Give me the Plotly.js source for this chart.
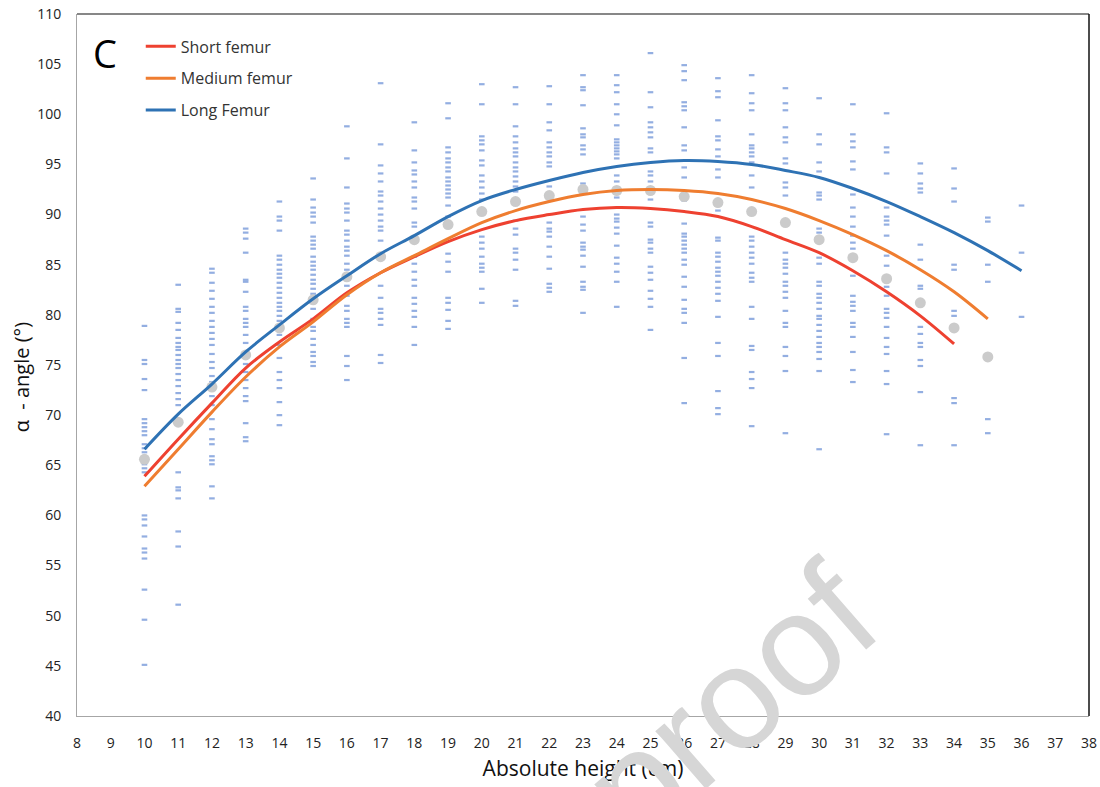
<!DOCTYPE html>
<html>
<head>
<meta charset="utf-8">
<script src="https://cdn.plot.ly/plotly-3.0.1.min.js"></script>
<style>html,body{margin:0;padding:0;background:#fff;}#chart{width:1100px;height:787px;}</style>
</head>
<body>
<div id="chart"></div>
<script>
// Absolute height (cm) of each column of individual measurements
const heights = [10,11,12,13,14,15,16,17,18,19,20,21,22,23,24,25,26,27,28,29,30,31,32,33,34,35,36];
// Individual α-angle measurements (°) per height
const pts10 = [78.9,75.5,75.1,73.6,72.5,69.6,69.2,68.8,68.4,68.0,67.1,66.7,66.3,65.5,65.1,64.7,64.3,60.0,59.6,59.0,57.9,56.7,56.3,55.7,52.6,49.6,45.1];
const pts11 = [83.0,80.6,80.3,79.2,78.5,77.7,77.2,76.8,76.5,76.0,75.5,75.1,74.7,74.1,73.5,72.9,72.2,71.6,71.0,64.3,62.8,62.5,61.7,58.4,56.9,51.1];
const pts12 = [84.6,84.2,83.2,82.4,81.6,80.8,80.2,79.4,78.8,78.2,77.6,77.0,76.1,75.3,74.7,73.9,73.3,71.9,71.0,69.6,68.6,67.6,67.1,65.9,65.5,65.1,62.9,61.7];
const pts13 = [88.6,88.2,87.6,86.2,83.5,83.3,82.3,80.8,80.4,79.6,79.2,78.8,78.0,77.2,75.1,74.3,73.5,72.7,71.9,71.4,69.2,67.8,67.4];
const pts14 = [91.3,89.8,89.4,88.4,85.9,85.5,85.0,84.5,84.1,83.7,83.2,82.7,82.2,81.7,81.2,80.8,80.4,79.9,79.4,78.0,77.0,75.7,74.3,73.5,72.7,71.3,70.0,69.0];
const pts15 = [93.6,91.5,90.7,90.2,89.8,89.2,87.8,87.4,87.0,86.6,85.8,85.3,84.9,84.5,84.0,83.5,83.1,82.6,82.1,80.6,79.6,78.8,78.4,77.6,77.0,76.3,75.9,75.3,74.9];
const pts16 = [98.8,95.6,92.7,91.1,90.6,90.2,89.4,88.4,88.0,87.4,86.8,86.4,85.9,85.1,84.5,82.9,81.9,80.9,80.4,79.6,79.2,78.8,75.9,74.9,73.5];
const pts17 = [103.1,97.0,94.9,94.1,93.3,92.3,91.9,91.3,90.6,90.0,89.4,88.8,88.4,87.4,82.9,81.7,80.6,80.2,79.6,79.0,76.0,75.2];
const pts18 = [99.2,96.4,95.2,94.4,94.0,93.3,92.7,91.7,91.3,90.6,89.2,88.8,85.8,85.1,84.3,83.5,82.9,81.7,81.1,80.4,79.8,78.8,77.0];
const pts19 = [101.1,99.6,96.7,96.2,95.6,95.2,94.7,94.3,93.7,93.3,92.9,92.5,92.1,91.7,90.9,89.8,86.1,85.3,84.3,81.7,81.2,80.5,79.4,78.6];
const pts20 = [103.0,101.0,97.8,97.4,97.0,96.4,95.4,94.9,93.9,93.3,92.7,92.1,91.5,87.8,87.2,86.6,85.8,85.1,84.7,84.3,82.6,81.2];
const pts21 = [102.7,101.0,98.8,97.8,97.2,96.6,96.2,95.8,95.2,94.7,94.3,93.8,93.3,92.8,92.3,89.4,88.6,88.0,86.6,86.2,85.5,84.5,81.4,80.9];
const pts22 = [102.8,101.0,99.2,98.4,97.2,96.7,96.2,95.8,95.2,94.8,92.8,89.2,88.6,88.3,87.8,86.8,85.8,84.6,83.1,82.7,82.3];
const pts23 = [103.9,102.7,102.4,100.9,98.6,98.0,97.7,96.9,96.5,96.0,93.1,89.8,89.0,88.4,87.2,86.8,86.5,85.9,84.8,83.3,82.8,82.5,80.2];
const pts24 = [103.9,102.9,102.2,101.0,100.0,98.9,97.5,97.2,96.9,96.6,96.3,96.0,95.6,93.9,93.3,91.7,90.0,89.6,89.3,88.7,88.1,86.9,85.7,85.1,84.3,83.3,80.8];
const pts25 = [106.1,102.2,100.7,99.2,98.7,98.2,97.7,96.6,96.2,94.3,93.9,93.3,91.5,89.2,88.8,87.5,87.2,86.6,86.2,84.8,84.2,83.5,82.4,81.6,80.8,78.5];
const pts26 = [104.9,104.3,103.4,101.2,100.8,100.4,98.7,96.9,96.4,94.7,93.7,91.4,89.1,88.1,87.8,87.4,87.0,86.6,86.2,85.5,85.0,83.8,82.8,81.5,80.6,80.2,79.2,75.7,71.2];
const pts27 = [103.6,102.3,101.7,99.4,97.8,97.4,96.5,95.8,94.5,93.7,90.4,87.7,87.4,86.2,85.8,85.3,84.7,84.3,83.9,83.3,82.7,82.1,81.4,79.8,77.2,75.9,72.4,70.7,70.1];
const pts28 = [103.9,102.1,101.1,100.4,98.0,96.9,96.6,96.2,95.8,95.2,93.9,92.7,87.8,87.4,86.8,86.2,85.7,85.1,84.2,83.7,83.3,80.8,79.6,76.9,76.5,74.3,73.6,72.7,68.9];
const pts29 = [102.6,101.1,100.4,98.7,97.7,97.2,95.6,95.1,93.2,92.7,91.9,89.4,86.2,85.5,85.1,84.7,84.1,83.3,82.9,82.3,81.7,80.4,79.2,78.8,76.8,75.9,74.4,68.2];
const pts30 = [101.6,98.0,97.0,95.2,94.3,92.2,91.9,91.5,88.6,88.2,85.7,85.1,83.3,82.9,82.1,81.7,81.2,80.6,79.9,79.6,79.0,78.4,77.8,77.2,76.8,76.3,75.6,74.4,66.6];
const pts31 = [101.0,98.0,97.3,96.7,95.3,94.5,92.0,90.7,89.8,88.8,87.9,87.2,86.6,85.9,83.9,81.9,81.3,80.9,80.4,79.2,78.8,77.8,76.3,74.5,73.3];
const pts32 = [100.1,96.7,96.2,94.1,90.7,89.8,89.4,89.0,87.9,85.9,84.9,82.8,81.9,80.6,80.2,79.7,78.8,77.7,76.8,76.1,74.4,73.1,68.1];
const pts33 = [95.1,94.1,93.1,92.6,92.2,87.0,85.5,82.9,82.6,78.8,78.1,77.2,76.8,75.5,74.9,72.3,67.0];
const pts34 = [94.6,92.6,91.3,85.0,84.5,80.4,79.9,71.7,71.2,67.0];
const pts35 = [89.7,89.3,85.0,83.3,69.6,68.2];
const pts36 = [90.9,86.2,79.8];
const columns = [pts10,pts11,pts12,pts13,pts14,pts15,pts16,pts17,pts18,pts19,pts20,pts21,pts22,pts23,pts24,pts25,pts26,pts27,pts28,pts29,pts30,pts31,pts32,pts33,pts34,pts35,pts36];

// Mean α-angle per height (grey dots)
const meanX = [10,11,12,13,14,15,16,17,18,19,20,21,22,23,24,25,26,27,28,29,30,31,32,33,34,35];
const meanY = [65.6,69.3,72.8,76.0,78.7,81.5,83.8,85.8,87.5,89.0,90.3,91.3,91.9,92.5,92.4,92.4,91.8,91.2,90.3,89.2,87.5,85.7,83.6,81.2,78.7,75.8];

// Fitted curves per femur length group
const shortX = [10,11,12,13,14,15,16,17,18,19,20,21,22,23,24,25,26,27,28,29,30,31,32,33,34];
const shortY = [63.9,67.6,71.2,74.7,77.3,79.6,82.2,84.2,85.8,87.3,88.5,89.4,90.0,90.5,90.7,90.6,90.3,89.8,88.8,87.5,86.2,84.4,82.3,79.9,77.1];
const mediumX = [10,11,12,13,14,15,16,17,18,19,20,21,22,23,24,25,26,27,28,29,30,31,32,33,34,35];
const mediumY = [62.9,66.6,70.3,73.8,76.8,79.3,82.0,84.2,85.9,87.6,89.2,90.4,91.3,92.0,92.4,92.5,92.4,92.1,91.5,90.6,89.4,88.0,86.4,84.5,82.3,79.6];
const longX = [10,11,12,13,14,15,16,17,18,19,20,21,22,23,24,25,26,27,28,29,30,31,32,33,34,35,36];
const longY = [66.6,70.1,73.1,76.3,79.0,81.6,83.9,86.1,87.9,89.8,91.4,92.5,93.4,94.2,94.8,95.2,95.4,95.3,95.0,94.4,93.7,92.6,91.3,89.8,88.2,86.4,84.4];

const xTicks = [8,9,10,11,12,13,14,15,16,17,18,19,20,21,22,23,24,25,26,27,28,29,30,31,32,33,34,35,36,37,38];
const yTicks = [40,45,50,55,60,65,70,75,80,85,90,95,100,105,110];

const sx = [], sy = [];
columns.forEach((col, i) => col.forEach(v => { sx.push(heights[i]); sy.push(v); }));

const traces = [
  {type:'scatter', mode:'markers', x:sx, y:sy, showlegend:false, hoverinfo:'x+y',
   marker:{symbol:'line-ew', size:4, color:'#8eaadf', line:{width:2.2, color:'rgba(128,160,220,0.85)'}}},
  {type:'scatter', mode:'markers', x:meanX, y:meanY, showlegend:false,
   marker:{symbol:'circle', size:11, color:'#cbcbcb'}},
  {type:'scatter', mode:'lines', name:'Short femur', x:shortX, y:shortY, legendgroup:'a',
   line:{color:'#ee4130', width:3, shape:'spline'}},
  {type:'scatter', mode:'lines', name:'Medium femur', x:mediumX, y:mediumY, legendgroup:'b',
   line:{color:'#ef7d30', width:3, shape:'spline'}},
  {type:'scatter', mode:'lines', name:'Long Femur', x:longX, y:longY, legendgroup:'c',
   line:{color:'#2e72b4', width:3, shape:'spline'}}
];

const tickFont = {family:'"Liberation Sans Narrow", "Open Sans", sans-serif', size:14, color:'#222'};

const layout = {
  width:1100, height:787,
  margin:{l:77, r:11, t:14, b:71},
  paper_bgcolor:'#fff', plot_bgcolor:'#fff',
  showlegend:true,
  legend:{x:0.063, y:0.978, xanchor:'left', yanchor:'top', bgcolor:'rgba(0,0,0,0)',
          font:{family:'"Open Sans", sans-serif', size:16, color:'#333'},
          tracegroupgap:8, itemwidth:30},
  xaxis:{range:[8,38], tickvals:xTicks, ticktext:xTicks.map(String), showgrid:false, zeroline:false,
         showline:true, linecolor:'#a6a6a6', linewidth:1, ticks:'', tickfont:tickFont,
         ticklabelstandoff:14,
         title:{text:'Absolute height (cm)', font:{family:'"Open Sans", sans-serif', size:21, color:'#111'}, standoff:10}},
  yaxis:{range:[40,110], tickvals:yTicks, ticktext:yTicks.map(String), showgrid:false, zeroline:false,
         showline:true, linecolor:'#a6a6a6', linewidth:1, ticks:'', tickfont:tickFont,
         ticklabelstandoff:12},
  shapes:[
    {type:'line', xref:'paper', yref:'paper', x0:0, x1:1, y0:1, y1:1, line:{color:'#111', width:1.2}},
    {type:'line', xref:'paper', yref:'paper', x0:1, x1:1, y0:0, y1:1, line:{color:'#111', width:1.5}}
  ],
  annotations:[
    {xref:'paper', yref:'paper', x:-0.054, y:0.483, xanchor:'center', yanchor:'middle', text:'α  - angle (°)', showarrow:false,
     textangle:-90, font:{family:'"Open Sans", sans-serif', size:20, color:'#111'}},
    {xref:'paper', yref:'paper', x:0.028, y:0.945, xanchor:'center', yanchor:'middle', text:'C', showarrow:false,
     font:{family:'"Open Sans", sans-serif', size:38, color:'#000'}},
    {xref:'paper', yref:'paper', x:0.645, y:0.02, xanchor:'center', yanchor:'middle', text:'proof', showarrow:false,
     textangle:-41, font:{family:'"Liberation Sans", sans-serif', size:145, color:'#d6d6d6'}}
  ]
};

Plotly.newPlot('chart', traces, layout, {staticPlot:true, displayModeBar:false});
</script>
</body>
</html>
